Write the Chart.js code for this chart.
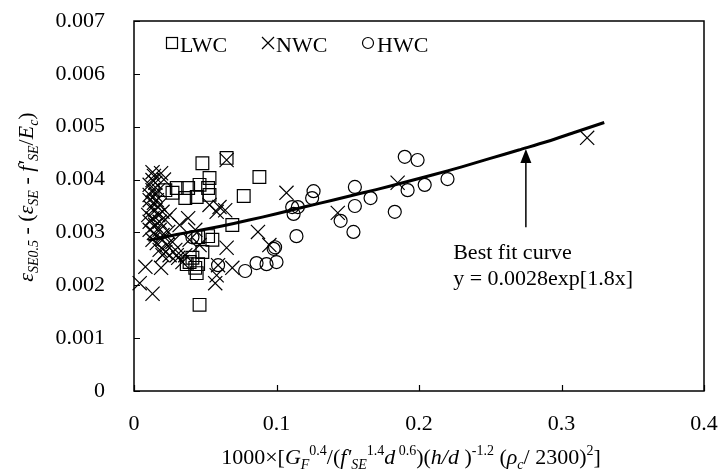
<!DOCTYPE html>
<html>
<head>
<meta charset="utf-8">
<script src="https://cdn.jsdelivr.net/npm/chart.js@4.4.1/dist/chart.umd.min.js"></script>
<style>
  html, body { margin: 0; padding: 0; background: #fff; }
</style>
</head>
<body>
<canvas id="chart" width="720" height="475"></canvas>
<script>
// LWC (squares)
const lwcX = [0.048, 0.065, 0.053, 0.030, 0.038, 0.036, 0.044, 0.053, 0.077, 0.088,
  0.069, 0.045, 0.052, 0.041, 0.037, 0.045, 0.044, 0.046, 0.027, 0.022,
  0.046, 0.039, 0.048, 0.043, 0.055, 0.052];
const lwcY = [0.00431, 0.00441, 0.00403, 0.00384, 0.00384, 0.00365, 0.00367, 0.00371, 0.00369, 0.00405,
  0.00314, 0.00291, 0.00293, 0.00252, 0.0024, 0.0024, 0.00223, 0.00163, 0.00375, 0.0038,
  0.0039, 0.00244, 0.00263, 0.00233, 0.00286, 0.00384];

// NWC (crosses)
const nwcX = [0.013, 0.014, 0.013, 0.011, 0.015, 0.013, 0.011, 0.015, 0.017, 0.011,
  0.014, 0.016, 0.012, 0.015, 0.018, 0.010, 0.013, 0.017, 0.020, 0.011,
  0.015, 0.018, 0.022, 0.011, 0.014, 0.018, 0.020, 0.024, 0.013, 0.016,
  0.020, 0.023, 0.027, 0.018, 0.022, 0.025, 0.029, 0.031, 0.034, 0.036,
  0.008, 0.019, 0.004, 0.013, 0.065, 0.058, 0.065, 0.060, 0.053, 0.064,
  0.058, 0.087, 0.095, 0.059, 0.069, 0.057, 0.107, 0.143, 0.185, 0.318,
  0.020, 0.030, 0.038, 0.043, 0.039, 0.046, 0.032, 0.025, 0.019, 0.021];
const nwcY = [0.00414, 0.00407, 0.00399, 0.0039, 0.00394, 0.0038, 0.00371, 0.00371, 0.0038, 0.00361,
  0.00356, 0.00361, 0.00346, 0.00342, 0.00352, 0.00333, 0.00327, 0.00333, 0.00339, 0.0032,
  0.00314, 0.0032, 0.00324, 0.00305, 0.00299, 0.00305, 0.00295, 0.00301, 0.00286, 0.0028,
  0.00286, 0.00276, 0.00282, 0.00267, 0.00263, 0.00257, 0.00267, 0.00252, 0.00244, 0.00257,
  0.00235, 0.00233, 0.00204, 0.00184, 0.00271, 0.00219, 0.00437, 0.00348, 0.00352, 0.00342,
  0.00339, 0.00301, 0.00276, 0.00238, 0.00233, 0.00204, 0.00375, 0.00337, 0.00394, 0.00479,
  0.00257, 0.00257, 0.00327, 0.00305, 0.00286, 0.00276, 0.00314, 0.00333, 0.00412, 0.004];

// HWC (circles)
const hwcX = [0.126, 0.125, 0.111, 0.115, 0.112, 0.114, 0.099, 0.098, 0.100, 0.093,
  0.086, 0.078, 0.059, 0.041, 0.155, 0.155, 0.145, 0.154, 0.166, 0.183,
  0.190, 0.199, 0.192, 0.204, 0.220];
const hwcY = [0.00378, 0.00365, 0.00348, 0.00348, 0.00335, 0.00293, 0.00272, 0.00269, 0.00244, 0.0024,
  0.00242, 0.00227, 0.00238, 0.00291, 0.00386, 0.0035, 0.00322, 0.00301, 0.00365, 0.00339,
  0.00443, 0.00437, 0.0038, 0.0039, 0.00401];

// Best fit curve
const fitX = [0.01, 0.03, 0.05, 0.07, 0.09, 0.11, 0.13, 0.15, 0.17, 0.19, 0.21, 0.23, 0.25, 0.27, 0.29, 0.31, 0.33];
const fitY = [0.00285, 0.00296, 0.00306, 0.00317, 0.00329, 0.00342, 0.00355, 0.00368, 0.00381, 0.00395,
  0.00409, 0.00424, 0.0044, 0.00456, 0.00472, 0.0049, 0.00508];

const xTicks = [0, 0.1, 0.2, 0.3, 0.4];
const yTicks = [0, 0.001, 0.002, 0.003, 0.004, 0.005, 0.006, 0.007];

const FONT = '"Liberation Serif", "Times New Roman", serif';

function pts(xs, ys) {
  return xs.map((x, i) => ({ x: x, y: ys[i] }));
}

// draw text with italic / sub / sup pieces, centred on cx
function drawRich(ctx, parts, cx, base, size) {
  const st = {
    n: [false, 1, 0], i: [true, 1, 0],
    isub: [true, 0.64, 0.22], sup: [false, 0.64, -0.4]
  };
  const font = k => (st[k][0] ? 'italic ' : '') + Math.round(size * st[k][1]) + 'px ' + FONT;
  let w = 0;
  parts.forEach(p => { ctx.font = font(p[1]); w += ctx.measureText(p[0]).width; });
  let x = cx - w / 2;
  ctx.textAlign = 'left';
  ctx.textBaseline = 'alphabetic';
  parts.forEach(p => {
    ctx.font = font(p[1]);
    ctx.fillText(p[0], x, base + st[p[1]][2] * size);
    x += ctx.measureText(p[0]).width;
  });
}

const yTitle = [["ε", "i"], ["SE0.5", "isub"], [" - (", "n"], ["ε", "i"], ["SE", "isub"], [" - ", "n"],
  ["f'", "i"], ["SE", "isub"], ["/", "n"], ["E", "i"], ["c", "isub"], [")", "n"]];
const xTitle = [["1000×[", "n"], ["G", "i"], ["F", "isub"], ["0.4", "sup"], ["/(", "n"], ["f'", "i"],
  ["SE", "isub"], ["1.4", "sup"], ["d", "i"], [" 0.6", "sup"], [")(", "n"], ["h/d", "i"], [" )", "n"],
  ["-1.2", "sup"], [" (", "n"], ["ρ", "i"], ["c", "isub"], ["/ 2300)", "n"], ["2", "sup"], ["]", "n"]];

// annotation position (data units)
const arrowX = 0.275, arrowFrom = 0.0031, arrowTo = 0.00458;
const noteX = 0.224, noteY1 = 0.0025, noteY2 = 0.00201;

const decor = {
  id: 'decor',
  afterDraw(chart) {
    const { ctx, chartArea: a, scales: { x, y } } = chart;
    ctx.save();
    ctx.strokeStyle = '#000';
    ctx.fillStyle = '#000';

    // frame
    ctx.lineWidth = 1.5;
    ctx.strokeRect(a.left, a.top, a.right - a.left, a.bottom - a.top);

    // inside tick marks
    ctx.lineWidth = 1.2;
    ctx.beginPath();
    yTicks.forEach(v => {
      const py = Math.round(y.getPixelForValue(v)) + 0.5;
      ctx.moveTo(a.left, py); ctx.lineTo(a.left + 6, py);
    });
    xTicks.forEach(v => {
      const px = Math.round(x.getPixelForValue(v)) + 0.5;
      ctx.moveTo(px, a.bottom); ctx.lineTo(px, a.bottom - 6);
    });
    ctx.stroke();

    // legend
    const lb = 52;
    ctx.font = '22px ' + FONT;
    ctx.textAlign = 'left';
    ctx.textBaseline = 'alphabetic';
    ctx.lineWidth = 1.2;
    ctx.strokeRect(166.5, lb - 14.5, 11, 11);
    ctx.fillText('LWC', 180, lb);
    ctx.beginPath();
    ctx.moveTo(262, lb - 15); ctx.lineTo(274, lb - 3);
    ctx.moveTo(274, lb - 15); ctx.lineTo(262, lb - 3);
    ctx.stroke();
    ctx.fillText('NWC', 276, lb);
    ctx.beginPath();
    ctx.arc(368, lb - 9, 5.5, 0, Math.PI * 2);
    ctx.stroke();
    ctx.fillText('HWC', 377, lb);

    // arrow + note
    const ax = x.getPixelForValue(arrowX);
    const ay1 = y.getPixelForValue(arrowFrom), ay2 = y.getPixelForValue(arrowTo);
    ctx.lineWidth = 1.5;
    ctx.beginPath();
    ctx.moveTo(ax, ay1); ctx.lineTo(ax, ay2 + 12);
    ctx.stroke();
    ctx.beginPath();
    ctx.moveTo(ax, ay2); ctx.lineTo(ax - 5.5, ay2 + 14); ctx.lineTo(ax + 5.5, ay2 + 14);
    ctx.closePath();
    ctx.fill();
    ctx.font = '22px ' + FONT;
    ctx.fillText('Best fit curve', x.getPixelForValue(noteX), y.getPixelForValue(noteY1));
    ctx.fillText('y = 0.0028exp[1.8x]', x.getPixelForValue(noteX), y.getPixelForValue(noteY2));

    // axis titles
    drawRich(ctx, xTitle, (a.left + a.right) / 2 - 8, 464, 22);
    ctx.translate(33, (a.top + a.bottom) / 2 - 9);
    ctx.rotate(-Math.PI / 2);
    drawRich(ctx, yTitle, 0, 0, 22);
    ctx.restore();
  }
};

const tickFont = { family: FONT, size: 22 };

new Chart(document.getElementById('chart'), {
  type: 'scatter',
  data: {
    datasets: [
      {
        label: 'Best fit curve',
        type: 'line',
        data: pts(fitX, fitY),
        borderColor: '#000',
        borderWidth: 3,
        pointRadius: 0,
        fill: false,
        tension: 0.3
      },
      {
        label: 'LWC',
        data: pts(lwcX, lwcY),
        pointStyle: 'rect',
        pointRadius: 9,
        borderColor: '#000',
        backgroundColor: 'rgba(0,0,0,0)',
        borderWidth: 1.2
      },
      {
        label: 'NWC',
        data: pts(nwcX, nwcY),
        pointStyle: 'crossRot',
        pointRadius: 10,
        borderColor: '#000',
        borderWidth: 1.2
      },
      {
        label: 'HWC',
        data: pts(hwcX, hwcY),
        pointStyle: 'circle',
        pointRadius: 6.5,
        borderColor: '#000',
        backgroundColor: 'rgba(0,0,0,0)',
        borderWidth: 1.2
      }
    ]
  },
  options: {
    responsive: false,
    animation: false,
    clip: false,
    layout: { padding: { top: 21, right: 16, left: 0, bottom: 0 } },
    plugins: { legend: { display: false }, tooltip: { enabled: false } },
    scales: {
      x: {
        type: 'linear',
        min: 0, max: 0.4,
        afterBuildTicks: s => { s.ticks = xTicks.map(v => ({ value: v })); },
        afterFit: s => { s.height = 84; s.paddingLeft = 0; s.paddingRight = 0; },
        grid: { display: false },
        border: { display: false },
        ticks: {
          font: tickFont, color: '#000', padding: 12, maxRotation: 0,
          callback: v => (v === 0 ? '0' : v.toFixed(1))
        }
      },
      y: {
        type: 'linear',
        min: 0, max: 0.007,
        afterBuildTicks: s => { s.ticks = yTicks.map(v => ({ value: v })); },
        afterFit: s => { s.width = 134; s.paddingTop = 0; s.paddingBottom = 0; },
        grid: { display: false },
        border: { display: false },
        ticks: {
          font: tickFont, color: '#000', padding: 21,
          callback: v => (v === 0 ? '0' : v.toFixed(3))
        }
      }
    }
  },
  plugins: [decor]
});
</script>
</body>
</html>
